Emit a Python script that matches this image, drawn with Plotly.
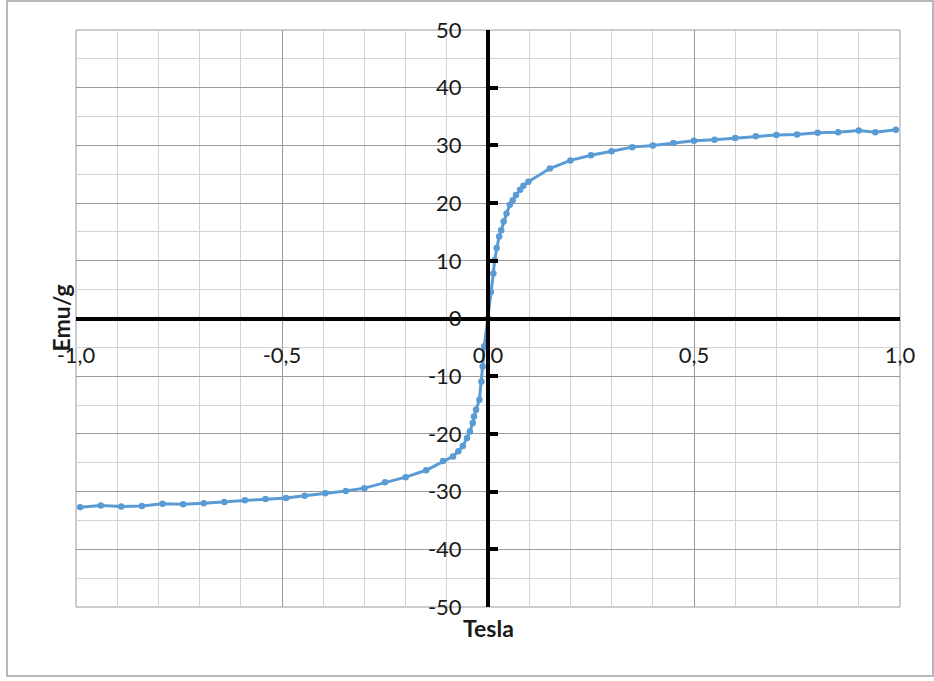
import plotly.graph_objects as go

# Field (Tesla) and magnetisation (emu/g)
tesla = [-0.99, -0.94, -0.89, -0.84, -0.79, -0.74, -0.69, -0.64, -0.59, -0.54,
         -0.49, -0.445, -0.395, -0.345, -0.30, -0.25, -0.20, -0.15, -0.109, -0.085,
         -0.072, -0.061, -0.051, -0.044, -0.037, -0.034, -0.029, -0.021, -0.016,
         -0.013, -0.009, 0.0,
         0.007, 0.013, 0.016, 0.021, 0.027, 0.032, 0.038, 0.045, 0.053, 0.060,
         0.068, 0.078, 0.086, 0.098, 0.15, 0.20, 0.25, 0.30, 0.35, 0.40, 0.45,
         0.50, 0.55, 0.60, 0.65, 0.70, 0.75, 0.80, 0.85, 0.90, 0.94, 0.99]
emu_g = [-32.7, -32.4, -32.6, -32.5, -32.1, -32.2, -32.0, -31.8, -31.5, -31.3,
         -31.1, -30.7, -30.3, -29.9, -29.4, -28.4, -27.5, -26.3, -24.7, -23.9,
         -23.0, -22.1, -20.7, -19.6, -18.1, -17.0, -15.8, -14.1, -10.9,
         -8.3, -4.8, 0.0,
         4.6, 7.8, 10.1, 12.2, 14.2, 15.3, 16.8, 18.2, 19.7, 20.5,
         21.4, 22.3, 23.0, 23.7, 26.0, 27.4, 28.3, 29.0, 29.7, 30.0, 30.4,
         30.8, 31.0, 31.3, 31.6, 31.8, 31.9, 32.2, 32.3, 32.6, 32.3, 32.7]

x_tickvals = [-1.0, -0.5, 0.0, 0.5, 1.0]
x_ticktext = ["-1,0", "-0,5", "0,0", "0,5", "1,0"]
x_end_ticks = [-1.0, 1.0]
y_tickvals = [-50, -40, -30, -20, -10, 0, 10, 20, 30, 40, 50]
y_ticktext = ["-50", "-40", "-30", "-20", "-10", "0", "10", "20", "30", "40", "50"]

x_title = "Tesla"
y_title = "Emu/g"

FONT = "Lato"
TXT = "#1a1a1a"
MAJOR = "#9a9a9a"
MINOR = "#d3d3d3"

fig = go.Figure()
fig.add_trace(go.Scatter(
    x=tesla, y=emu_g, mode="lines+markers",
    line=dict(color="#5B9BD5", width=3),
    marker=dict(color="#5B9BD5", size=6.5),
    showlegend=False,
))
# empty helper trace so the end-tick axis is drawn
fig.add_trace(go.Scatter(
    x=x_end_ticks, y=[None, None], xaxis="x2", yaxis="y",
    mode="markers", showlegend=False, hoverinfo="skip",
))

fig.update_layout(
    width=934, height=681,
    margin=dict(l=76, r=34, t=30, b=74),
    paper_bgcolor="white", plot_bgcolor="white",
    font=dict(family=FONT, size=22, color=TXT),
    xaxis=dict(
        range=[-1, 1], anchor="free", position=0.5,
        showline=True, linecolor="black", linewidth=4,
        ticks="",
        tickvals=x_tickvals, ticktext=x_ticktext,
        ticklabelstandoff=16,
        showgrid=True, gridcolor=MAJOR, gridwidth=1,
        minor=dict(dtick=0.1, tick0=0, showgrid=True, gridcolor=MINOR, gridwidth=1),
        zeroline=False,
        tickfont=dict(family=FONT, size=22, color=TXT),
    ),
    xaxis2=dict(
        range=[-1, 1], overlaying="x", anchor="free", position=0.5, side="bottom",
        showline=False, showgrid=False, zeroline=False,
        tickvals=x_end_ticks, showticklabels=False,
        ticks="inside", ticklen=8, tickwidth=4, tickcolor="black",
    ),
    yaxis=dict(
        range=[-50, 50], anchor="free", position=0.5,
        showline=True, linecolor="black", linewidth=4,
        ticks="inside", ticklen=8, tickwidth=4, tickcolor="black",
        tickvals=y_tickvals, ticktext=y_ticktext,
        ticklabelstandoff=20,
        showgrid=True, gridcolor=MAJOR, gridwidth=1,
        minor=dict(dtick=5, tick0=0, showgrid=True, gridcolor=MINOR, gridwidth=1),
        zeroline=False,
        tickfont=dict(family=FONT, size=22, color=TXT),
    ),
    shapes=[
        dict(type="rect", xref="paper", yref="paper", x0=0, x1=1, y0=0, y1=1,
             line=dict(color=MAJOR, width=1), layer="below"),
        dict(type="rect", xref="paper", yref="paper",
             x0=(7 - 76) / 824, x1=(933 - 76) / 824,
             y0=(607 - 676) / 577, y1=(607 - 1) / 577,
             line=dict(color="#a0a0a0", width=1.5), layer="below"),
    ],
    annotations=[
        dict(text="<b>" + x_title + "</b>", xref="paper", yref="paper",
             x=0.5, y=(607 - 628) / 577, showarrow=False,
             font=dict(family=FONT, size=23, color=TXT),
             xanchor="center", yanchor="middle"),
        dict(text="<b>" + y_title + "</b>", xref="paper", yref="paper",
             x=(60 - 76) / 824, y=0.5, showarrow=False, textangle=-90,
             font=dict(family=FONT, size=23, color=TXT),
             xanchor="center", yanchor="middle"),
    ],
)

fig.write_html("out.html", config={"displayModeBar": False},
               post_script="document.body.style.margin='0px';")
